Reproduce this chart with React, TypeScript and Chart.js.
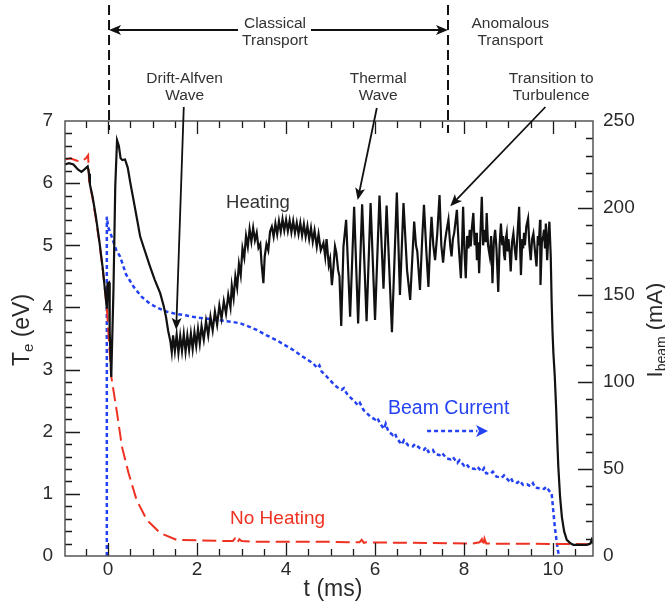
import React, { useEffect, useRef } from "react";
import { Chart, registerables } from "chart.js";

Chart.register(...registerables);

// ---------- axis configuration ----------
const X_MIN = -0.97;
const X_MAX = 10.9;
const xTickValues = [0, 2, 4, 6, 8, 10];
const TE_MIN = 0;
const TE_MAX = 7;
const BEAM_MIN = 0;
const BEAM_MAX = 250;

// ---------- data ----------
// Heating: [t (ms), Te (eV)]
const heating: [number, number][] = [
  [-0.97, 6.3], [-0.88, 6.32], [-0.78, 6.3], [-0.68, 6.22], [-0.6, 6.18], [-0.52, 6.23], [-0.46, 6.27],
  [-0.43, 6.15], [-0.41, 5.98], [-0.35, 5.78], [-0.28, 5.48], [-0.2, 5.08], [-0.12, 4.62], [-0.06, 4.2],
  [-0.03, 3.98], [-0.015, 4.38], [0.02, 4.4], [0.035, 3.6], [0.07, 2.88], [0.12, 4.3], [0.16, 5.95],
  [0.2, 6.69], [0.24, 6.6], [0.28, 6.4], [0.32, 6.37], [0.38, 6.38], [0.44, 6.25], [0.5, 6.0], [0.57, 5.73],
  [0.65, 5.42], [0.72, 5.14], [0.83, 4.9], [0.94, 4.66], [1.05, 4.44], [1.17, 4.23], [1.25, 4.02],
  [1.3, 3.85], [1.35, 3.62], [1.4, 3.45], [1.43, 3.28], [1.46, 3.55], [1.5, 3.3], [1.54, 3.56], [1.58, 3.27],
  [1.62, 3.54], [1.66, 3.3], [1.7, 3.57], [1.74, 3.29], [1.78, 3.55], [1.82, 3.32], [1.86, 3.58], [1.9, 3.33],
  [1.94, 3.6], [1.98, 3.38], [2.02, 3.65], [2.06, 3.42], [2.1, 3.7], [2.15, 3.48], [2.2, 3.78], [2.25, 3.55],
  [2.3, 3.85], [2.35, 3.63], [2.4, 3.93], [2.45, 3.72], [2.5, 4.03], [2.55, 3.82], [2.6, 4.1], [2.65, 3.9],
  [2.7, 4.2], [2.75, 4.0], [2.78, 4.35], [2.82, 4.15], [2.86, 4.5], [2.9, 4.32], [2.94, 4.7], [2.98, 4.52],
  [3.02, 4.95], [3.06, 4.8], [3.1, 5.15], [3.14, 4.98], [3.18, 5.26], [3.22, 5.06], [3.26, 5.28], [3.3, 5.08],
  [3.34, 5.2], [3.38, 4.96], [3.42, 5.02], [3.45, 4.7], [3.49, 4.39], [3.52, 4.82], [3.56, 5.02], [3.6, 4.92],
  [3.64, 5.22], [3.68, 5.3], [3.72, 5.14], [3.76, 5.35], [3.8, 5.18], [3.84, 5.39], [3.88, 5.22], [3.92, 5.42],
  [3.96, 5.24], [4.0, 5.41], [4.04, 5.23], [4.08, 5.4], [4.12, 5.21], [4.16, 5.39], [4.2, 5.2], [4.24, 5.36],
  [4.28, 5.18], [4.32, 5.36], [4.36, 5.16], [4.4, 5.34], [4.44, 5.14], [4.48, 5.31], [4.52, 5.1], [4.56, 5.28],
  [4.6, 5.06], [4.64, 5.24], [4.69, 4.98], [4.73, 5.18], [4.78, 4.92], [4.84, 5.04], [4.88, 4.82], [4.91, 5.1],
  [4.96, 4.68], [4.99, 4.78], [5.03, 4.36], [5.06, 4.6], [5.1, 4.98], [5.13, 4.88], [5.17, 4.6], [5.2, 4.5],
  [5.24, 3.7], [5.29, 4.98], [5.35, 5.41], [5.44, 3.85], [5.53, 5.62], [5.62, 3.74], [5.71, 5.66],
  [5.81, 3.78], [5.9, 5.68], [6.0, 3.8], [6.1, 5.8], [6.19, 4.3], [6.26, 5.64], [6.38, 3.6], [6.49, 5.85],
  [6.56, 4.2], [6.64, 5.68], [6.72, 4.6], [6.79, 4.12], [6.88, 5.38], [6.92, 5.0], [6.95, 4.9], [7.01, 4.28],
  [7.06, 5.1], [7.1, 5.65], [7.15, 4.95], [7.2, 4.33], [7.24, 5.05], [7.27, 5.46], [7.31, 5.0], [7.35, 4.76],
  [7.4, 5.2], [7.45, 5.81], [7.49, 5.0], [7.53, 4.72], [7.57, 5.05], [7.6, 5.2], [7.65, 5.41], [7.69, 5.0],
  [7.72, 4.82], [7.75, 5.1], [7.78, 5.2], [7.84, 5.57], [7.88, 5.0], [7.93, 4.47], [7.96, 5.1], [7.98, 5.62],
  [8.01, 4.9], [8.04, 4.47], [8.07, 5.15], [8.1, 4.95], [8.13, 5.25], [8.15, 4.98], [8.18, 5.3], [8.21, 5.52],
  [8.24, 5.0], [8.27, 5.2], [8.29, 4.76], [8.32, 5.05], [8.34, 4.55], [8.37, 5.2], [8.4, 5.78], [8.43, 5.0],
  [8.46, 5.25], [8.49, 5.05], [8.51, 5.52], [8.54, 5.0], [8.58, 4.82], [8.61, 5.15], [8.64, 4.39],
  [8.67, 5.05], [8.7, 5.25], [8.73, 4.95], [8.77, 4.25], [8.8, 5.0], [8.83, 5.35], [8.86, 5.0], [8.88, 5.15],
  [8.9, 4.85], [8.92, 4.76], [8.94, 5.1], [8.96, 5.19], [8.98, 4.9], [9.0, 5.1], [9.03, 4.85], [9.05, 4.58],
  [9.08, 5.05], [9.11, 5.19], [9.14, 4.95], [9.17, 4.76], [9.2, 5.15], [9.24, 5.62], [9.26, 5.0],
  [9.28, 4.52], [9.31, 5.1], [9.33, 4.95], [9.35, 5.2], [9.37, 5.0], [9.4, 5.3], [9.44, 5.43], [9.47, 5.0],
  [9.5, 4.76], [9.53, 5.1], [9.56, 5.19], [9.59, 4.95], [9.63, 4.66], [9.66, 5.15], [9.68, 5.0], [9.71, 5.41],
  [9.72, 4.36], [9.75, 5.05], [9.78, 5.15], [9.8, 5.25], [9.82, 4.95], [9.84, 5.35], [9.87, 4.76],
  [9.9, 5.2], [9.92, 5.38], [9.95, 4.82], [9.97, 4.1], [9.99, 3.6], [10.01, 3.26], [10.04, 2.9],
  [10.07, 2.4], [10.1, 1.8], [10.12, 1.44], [10.16, 0.95], [10.2, 0.63], [10.25, 0.4], [10.31, 0.26],
  [10.4, 0.2], [10.46, 0.18], [10.76, 0.18], [10.84, 0.2], [10.87, 0.26], [10.9, 0.2],
];

// No heating: [t (ms), Te (eV)]
const noHeating: [number, number][] = [
  [-0.97, 6.38], [-0.85, 6.4], [-0.7, 6.36], [-0.6, 6.35], [-0.5, 6.4], [-0.45, 6.45], [-0.43, 6.05],
  [-0.35, 5.75], [-0.28, 5.45], [-0.2, 5.05], [-0.12, 4.6], [-0.03, 4.0], [0.07, 2.89], [0.2, 2.3],
  [0.31, 1.76], [0.46, 1.33], [0.64, 0.9], [0.87, 0.58], [1.17, 0.37], [1.54, 0.26], [2.07, 0.25],
  [2.8, 0.24], [2.85, 0.28], [2.9, 0.21], [2.95, 0.27], [3.0, 0.24], [3.34, 0.23], [4.91, 0.23],
  [5.65, 0.22], [5.7, 0.26], [5.75, 0.21], [5.8, 0.22], [8.2, 0.2], [8.35, 0.22], [8.4, 0.27],
  [8.43, 0.16], [8.46, 0.28], [8.5, 0.2], [10.9, 0.19],
];

// Beam current: [t (ms), I (mA)]
const beamCurrent: [number, number][] = [
  [-0.03, 0], [-0.03, 195], [0.0, 189], [0.08, 183.5], [0.18, 176], [0.27, 172], [0.4, 162], [0.57, 154.8],
  [0.75, 149], [0.94, 145], [1.12, 142.5], [1.32, 140.4], [1.5, 139.3], [1.69, 138.5], [1.9, 137.5],
  [2.14, 136.6], [2.35, 136], [2.59, 135.2], [2.8, 134.5], [2.97, 133.7], [3.15, 132], [3.34, 129.9],
  [3.55, 127], [3.79, 124], [3.95, 121.5], [4.16, 118.4], [4.35, 115], [4.61, 110.7], [4.7, 108],
  [4.75, 109.5], [4.8, 106], [4.9, 103.5], [4.99, 101], [5.08, 98.5], [5.15, 97], [5.25, 95.5],
  [5.3, 96.5], [5.36, 93.5], [5.45, 91], [5.55, 88.5], [5.62, 86.5], [5.66, 88], [5.74, 83.9], [5.82, 82],
  [5.9, 80], [6.0, 78.5], [6.05, 79.5], [6.11, 76.3], [6.2, 73], [6.24, 76], [6.3, 71.5], [6.4, 69.5],
  [6.45, 70.5], [6.49, 67.6], [6.6, 64], [6.65, 66.5], [6.75, 63.5], [6.85, 63], [6.9, 64.3], [7.01, 61.9],
  [7.1, 61], [7.15, 62.5], [7.2, 59.8], [7.3, 61], [7.35, 58.5], [7.45, 58], [7.5, 59.3], [7.61, 56.1],
  [7.7, 55.5], [7.75, 56.8], [7.85, 53.5], [7.9, 55], [8.0, 52], [8.05, 53], [8.13, 50.4], [8.25, 50],
  [8.3, 51.3], [8.4, 48.5], [8.45, 50.5], [8.5, 47.5], [8.6, 47.3], [8.65, 48.5], [8.73, 45.6], [8.85, 45],
  [8.9, 46.3], [9.0, 43.5], [9.05, 45], [9.1, 42.5], [9.2, 42], [9.25, 43.3], [9.33, 40.8], [9.42, 41.2],
  [9.5, 40], [9.55, 41.8], [9.6, 39.2], [9.71, 38.9], [9.8, 38.5], [9.85, 39.8], [9.93, 37], [9.97, 36],
  [10.0, 28], [10.04, 17], [10.1, 5], [10.14, -1],
];

// ---------- style ----------
const FONT = "'Liberation Sans', Arial, Helvetica, sans-serif";
const BLACK = "#111111";
const RED = "#ee3120";
const BLUE = "#2442f2";
const TEXT = "#2a2a2a";

const toXY = (arr: [number, number][]) => arr.map(([x, y]) => ({ x, y }));

function arrowHead(ctx: CanvasRenderingContext2D, fx: number, fy: number, tx: number, ty: number, len: number, half: number) {
  const ang = Math.atan2(ty - fy, tx - fx);
  const bx = tx - len * Math.cos(ang);
  const by = ty - len * Math.sin(ang);
  const nx = -Math.sin(ang);
  const ny = Math.cos(ang);
  const mx = tx - len * 0.75 * Math.cos(ang);
  const my = ty - len * 0.75 * Math.sin(ang);
  ctx.beginPath();
  ctx.moveTo(tx, ty);
  ctx.lineTo(bx + nx * half, by + ny * half);
  ctx.lineTo(mx, my);
  ctx.lineTo(bx - nx * half, by - ny * half);
  ctx.closePath();
  ctx.fill();
}

function arrow(ctx: CanvasRenderingContext2D, fx: number, fy: number, tx: number, ty: number) {
  const ang = Math.atan2(ty - fy, tx - fx);
  ctx.beginPath();
  ctx.moveTo(fx, fy);
  ctx.lineTo(tx - 6 * Math.cos(ang), ty - 6 * Math.sin(ang));
  ctx.stroke();
  arrowHead(ctx, fx, fy, tx, ty, 12, 5);
}

const decorPlugin = {
  id: "decor",
  afterDraw(chart: any) {
    const { ctx, chartArea: a, scales } = chart;
    const sx = scales.x;
    const sy = scales.y;
    const sy1 = scales.y1;
    const X = (v: number) => sx.getPixelForValue(v);
    const Y = (v: number) => sy.getPixelForValue(v);
    ctx.save();
    ctx.setLineDash([]);

    // ---- inward ticks ----
    ctx.strokeStyle = "#1a1a1a";
    ctx.lineWidth = 1.3;
    ctx.beginPath();
    for (let k = -1; k <= 21; k++) {
      const v = k * 0.5;
      const px = Math.round(X(v)) + 0.5;
      const major = k % 4 === 0;
      const len = major ? 13 : 7;
      ctx.moveTo(px, a.bottom);
      ctx.lineTo(px, a.bottom - len);
      ctx.moveTo(px, a.top);
      ctx.lineTo(px, a.top + len);
    }
    for (let i = 1; i < 35; i++) {
      const py = Math.round(Y(i * 0.2)) + 0.5;
      const major = i % 5 === 0;
      ctx.moveTo(a.left, py);
      ctx.lineTo(a.left + (major ? 15 : 7), py);
    }
    for (let i = 1; i < 25; i++) {
      const py = Math.round(sy1.getPixelForValue(i * 10)) + 0.5;
      const major = i % 5 === 0;
      ctx.moveTo(a.right, py);
      ctx.lineTo(a.right - (major ? 15 : 7), py);
    }
    ctx.stroke();
    ctx.strokeStyle = "#555";
    ctx.lineWidth = 1.5;
    ctx.strokeRect(a.left, a.top, a.right - a.left, a.bottom - a.top);

    // ---- axis titles ----
    ctx.fillStyle = TEXT;
    ctx.textBaseline = "alphabetic";
    {
      const big = `23px ${FONT}`;
      const small = `15px ${FONT}`;
      ctx.font = big;
      const wT = ctx.measureText("T").width;
      const wRest = ctx.measureText(" (eV)").width;
      ctx.font = small;
      const wSub = ctx.measureText("e").width;
      const total = wT + wSub + wRest;
      ctx.save();
      ctx.translate(29, 330);
      ctx.rotate(-Math.PI / 2);
      ctx.textAlign = "left";
      ctx.font = big;
      ctx.fillText("T", -total / 2, 0);
      ctx.font = small;
      ctx.fillText("e", -total / 2 + wT, 4);
      ctx.font = big;
      ctx.fillText(" (eV)", -total / 2 + wT + wSub, 0);
      ctx.restore();
    }
    {
      const big = `22px ${FONT}`;
      const small = `14px ${FONT}`;
      ctx.font = big;
      const wI = ctx.measureText("I").width;
      const wRest = ctx.measureText(" (mA)").width;
      ctx.font = small;
      const wSub = ctx.measureText("beam").width;
      const total = wI + wSub + wRest;
      ctx.save();
      ctx.translate(662, 330);
      ctx.rotate(-Math.PI / 2);
      ctx.textAlign = "left";
      ctx.font = big;
      ctx.fillText("I", -total / 2, 0);
      ctx.font = small;
      ctx.fillText("beam", -total / 2 + wI, 4);
      ctx.font = big;
      ctx.fillText(" (mA)", -total / 2 + wI + wSub, 0);
      ctx.restore();
    }
    ctx.font = `23px ${FONT}`;
    ctx.textAlign = "center";
    ctx.fillText("t (ms)", 333, 596);

    // ---- dashed vertical markers ----
    ctx.strokeStyle = BLACK;
    ctx.lineWidth = 2;
    ctx.setLineDash([10, 5]);
    const xA = X(0.02);
    const xB = X(7.64);
    ctx.beginPath();
    ctx.moveTo(xA, 5);
    ctx.lineTo(xA, a.top + 9);
    ctx.moveTo(xB, 5);
    ctx.lineTo(xB, a.top + 12);
    ctx.stroke();
    ctx.setLineDash([]);

    // ---- classical transport double arrow ----
    ctx.fillStyle = BLACK;
    ctx.lineWidth = 1.8;
    const yArr = 30;
    ctx.beginPath();
    ctx.moveTo(xA + 6, yArr);
    ctx.lineTo(X(2.92), yArr);
    ctx.moveTo(X(4.56), yArr);
    ctx.lineTo(xB - 6, yArr);
    ctx.stroke();
    arrowHead(ctx, xA + 20, yArr, xA, yArr, 12, 5);
    arrowHead(ctx, xB - 20, yArr, xB, yArr, 12, 5);

    // ---- top labels ----
    ctx.fillStyle = "#333";
    ctx.font = `15.5px ${FONT}`;
    ctx.textAlign = "center";
    ctx.fillText("Classical", X(3.75), 28);
    ctx.fillText("Transport", X(3.75), 45);
    ctx.fillText("Anomalous", X(9.04), 28);
    ctx.fillText("Transport", X(9.04), 45);
    ctx.fillText("Drift-Alfven", X(1.72), 83);
    ctx.fillText("Wave", X(1.72), 100);
    ctx.fillText("Thermal", X(6.07), 83);
    ctx.fillText("Wave", X(6.07), 100);
    ctx.fillText("Transition to", X(9.96), 83);
    ctx.fillText("Turbulence", X(9.96), 100);

    // ---- pointer arrows ----
    ctx.strokeStyle = BLACK;
    ctx.fillStyle = BLACK;
    ctx.lineWidth = 1.8;
    arrow(ctx, X(1.7), 107, X(1.53), Y(3.64));
    arrow(ctx, X(6.04), 108, X(5.61), Y(5.73));
    arrow(ctx, X(9.83), 107, X(7.69), Y(5.63));

    // ---- in-plot labels ----
    ctx.textAlign = "left";
    ctx.fillStyle = "#333";
    ctx.font = `18.5px ${FONT}`;
    ctx.fillText("Heating", X(2.65), Y(5.6));
    ctx.fillStyle = BLUE;
    ctx.font = `19.5px ${FONT}`;
    ctx.fillText("Beam Current", X(6.29), Y(2.285));
    ctx.fillStyle = RED;
    ctx.font = `19px ${FONT}`;
    ctx.fillText("No Heating", X(2.74), Y(0.515));

    // ---- blue dotted arrow ----
    ctx.strokeStyle = BLUE;
    ctx.fillStyle = BLUE;
    ctx.lineWidth = 2.5;
    ctx.setLineDash([4, 3]);
    ctx.beginPath();
    ctx.moveTo(X(7.17), Y(2.01));
    ctx.lineTo(X(8.3), Y(2.01));
    ctx.stroke();
    ctx.setLineDash([]);
    arrowHead(ctx, X(7.17), Y(2.01), X(8.54), Y(2.01), 12, 6);

    ctx.restore();
  },
};

export default function App() {
  const canvasRef = useRef<HTMLCanvasElement | null>(null);

  useEffect(() => {
    const canvas = canvasRef.current;
    if (!canvas) return;
    Chart.defaults.font.family = FONT;
    const chart = new Chart(canvas, {
      type: "line",
      data: {
        datasets: [
          {
            label: "Heating",
            data: toXY(heating),
            yAxisID: "y",
            borderColor: BLACK,
            borderWidth: 2.2,
            pointRadius: 0,
            tension: 0,
          },
          {
            label: "No Heating",
            data: toXY(noHeating),
            yAxisID: "y",
            borderColor: RED,
            borderWidth: 2,
            borderDash: [14, 6],
            pointRadius: 0,
            tension: 0,
          },
          {
            label: "Beam Current",
            data: toXY(beamCurrent),
            yAxisID: "y1",
            borderColor: BLUE,
            borderWidth: 2.5,
            borderDash: [4, 3],
            pointRadius: 0,
            tension: 0,
          },
        ],
      },
      options: {
        animation: false,
        responsive: false,
        devicePixelRatio: 1,
        layout: { padding: { top: 121, left: 0, right: 0, bottom: 0 } },
        plugins: { legend: { display: false }, tooltip: { enabled: false } },
        scales: {
          x: {
            type: "linear",
            min: X_MIN,
            max: X_MAX,
            grid: { display: false, drawTicks: false },
            border: { display: false },
            afterBuildTicks: (s: any) => {
              s.ticks = xTickValues.map((v) => ({ value: v }));
            },
            afterFit: (s: any) => {
              s.height = 49;
            },
            ticks: {
              font: { size: 19, family: FONT },
              color: TEXT,
              padding: 2,
              maxRotation: 0,
              autoSkip: false,
            },
          },
          y: {
            type: "linear",
            position: "left",
            min: TE_MIN,
            max: TE_MAX,
            grid: { display: false, drawTicks: false },
            border: { display: false },
            afterFit: (s: any) => {
              s.width = 65;
            },
            ticks: { stepSize: 1, font: { size: 19, family: FONT }, color: TEXT, padding: 12 },
          },
          y1: {
            type: "linear",
            position: "right",
            min: BEAM_MIN,
            max: BEAM_MAX,
            grid: { display: false, drawTicks: false },
            border: { display: false },
            afterFit: (s: any) => {
              s.width = 72;
            },
            ticks: { stepSize: 50, font: { size: 19, family: FONT }, color: TEXT, padding: 10 },
          },
        },
      },
      plugins: [decorPlugin],
    });
    return () => chart.destroy();
  }, []);

  return (
    <div style={{ position: "absolute", left: 0, top: 0, width: 665, height: 605 }}>
      <canvas ref={canvasRef} width={665} height={605} />
    </div>
  );
}
